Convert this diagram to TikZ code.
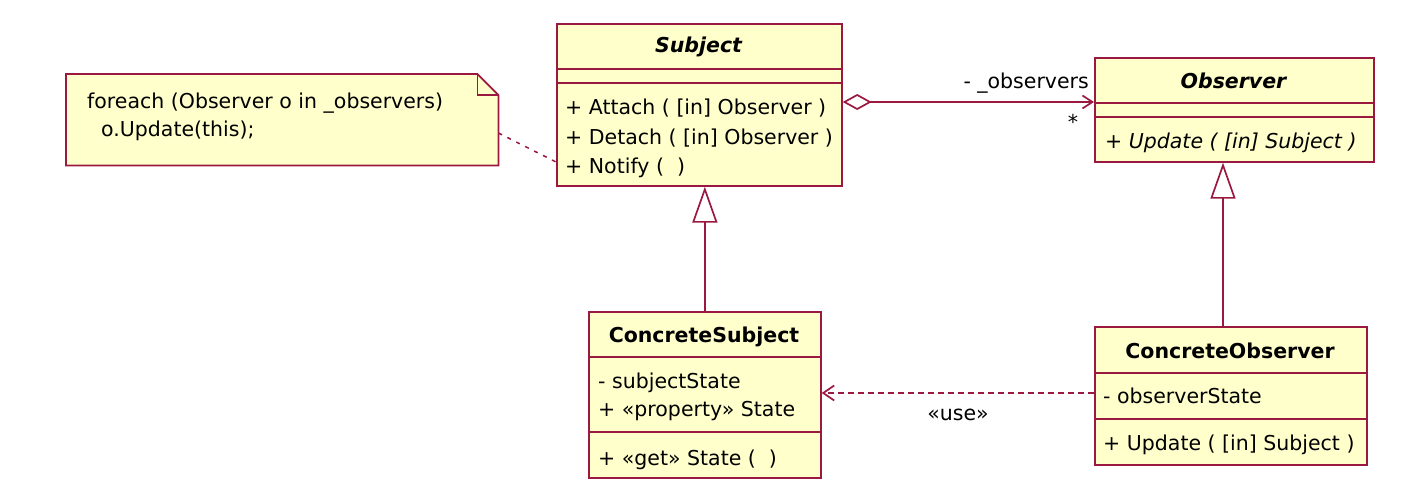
\documentclass[tikz,border=0pt]{standalone}
\usepackage{fontspec}
\setmainfont{DejaVu Sans}
\usetikzlibrary{arrows.meta}
\definecolor{umlline}{RGB}{155,25,65}
\definecolor{umlfill}{RGB}{255,255,204}
\begin{document}
\begin{tikzpicture}[x=1pt,y=-1pt,
  classbox/.style={draw=umlline, fill=umlfill, line width=1.7pt, rectangle,
    inner sep=0pt, anchor=north west},
  frame/.style={draw=umlline, line width=1.7pt},
  txt/.style={inner sep=0pt, font=\fontsize{20.5}{24}\selectfont},
  member/.style={txt, anchor=base west},
  ctitle/.style={txt, anchor=base, font=\fontsize{20.5}{24}\selectfont\bfseries},
  atitle/.style={ctitle, font=\fontsize{20.5}{24}\selectfont\bfseries\itshape},
  gen/.style={frame, -{Triangle[open, length=36pt, width=25pt, fill=white]}},
  agg/.style={frame, {Diamond[open, length=29pt, width=16pt, fill=white]}-{Straight Barb[length=10pt, width=13pt]}},
  dep/.style={frame, dash pattern=on 6pt off 4pt, -{Straight Barb[length=11pt, width=15pt]}},
  anchorlink/.style={draw=umlline, line width=1.5pt, dash pattern=on 4pt off 6pt},
]
\useasboundingbox (0,0) rectangle (1413,492);

% ---- Subject (abstract) ----
\node[classbox, minimum width=285pt, minimum height=162pt] (subject) at (556,23) {};
\draw[frame] (subject.west |- 0,69) -- (subject.east |- 0,69);
\draw[frame] (subject.west |- 0,83) -- (subject.east |- 0,83);
\node[atitle] (subjectname) at (698.5,53) {Subject};
\node[member] (attach) at (565,115) {+ Attach ( [in] Observer )};
\node[member] (detach) at (565,144) {+ Detach ( [in] Observer )};
\node[member] (notify) at (565,173) {+ Notify (\ \ )};

% ---- Observer (abstract) ----
\node[classbox, minimum width=279pt, minimum height=104pt] (observer) at (1094,57) {};
\draw[frame] (observer.west |- 0,103) -- (observer.east |- 0,103);
\draw[frame] (observer.west |- 0,117) -- (observer.east |- 0,117);
\node[atitle] (observername) at (1233.5,89) {Observer};
\node[member, font=\fontsize{20.5}{24}\selectfont\itshape] (update) at (1105,148) {+ Update ( [in] Subject )};

% ---- ConcreteSubject ----
\node[classbox, minimum width=232pt, minimum height=166pt] (csubject) at (588,311) {};
\draw[frame] (csubject.west |- 0,357) -- (csubject.east |- 0,357);
\draw[frame] (csubject.west |- 0,432) -- (csubject.east |- 0,432);
\node[ctitle] (csubjectname) at (704,342) {ConcreteSubject};
\node[member] (substate) at (598,388) {- subjectState};
\node[member] (propstate) at (598,416) {+ «property» State};
\node[member] (getstate) at (598,465) {+ «get» State (\ \ )};

% ---- ConcreteObserver ----
\node[classbox, minimum width=272pt, minimum height=138pt] (cobserver) at (1094,326) {};
\draw[frame] (cobserver.west |- 0,373) -- (cobserver.east |- 0,373);
\draw[frame] (cobserver.west |- 0,419) -- (cobserver.east |- 0,419);
\node[ctitle] (cobservername) at (1230,358) {ConcreteObserver};
\node[member] (obsstate) at (1103,403) {- observerState};
\node[member] (cupdate) at (1103,450) {+ Update ( [in] Subject )};

% ---- note attached to Notify ----
\node[minimum width=432pt, minimum height=91pt, inner sep=0pt, anchor=north west] (note) at (66,74) {};
\draw[frame, fill=umlfill] (note.north west) -- ([xshift=-21pt]note.north east)
  -- ([yshift=-21pt]note.north east) -- (note.south east) -- (note.south west) -- cycle;
\draw[frame] ([xshift=-21pt]note.north east) -- ([xshift=-21pt,yshift=-21pt]note.north east)
  -- ([yshift=-21pt]note.north east);
\node[member] (noteline1) at (87,109) {foreach (Observer o in \_observers)};
\node[member] (noteline2) at (101,137) {o.Update(this);};
\draw[anchorlink] (note.east |- 0,133) -- (subject.west |- 0,162);

% ---- relationships ----
\draw[agg] (subject.east |- 0,102) -- (observer.west |- 0,102);
\node[txt, anchor=base east] (rolename) at (1089,89) {- \_observers};
\node[txt, anchor=base] (mult) at (1073,130) {*};

\draw[gen] (csubject.north) -- (csubject.north |- subject.south);
\draw[gen] ([xshift=129pt]cobserver.north west) -- ([xshift=129pt]cobserver.north west |- observer.south);

\draw[dep] (cobserver.west |- 0,393) -- (csubject.east |- 0,393);
\node[txt, anchor=base] (uselabel) at (958,420) {«use»};
\end{tikzpicture}
\end{document}
